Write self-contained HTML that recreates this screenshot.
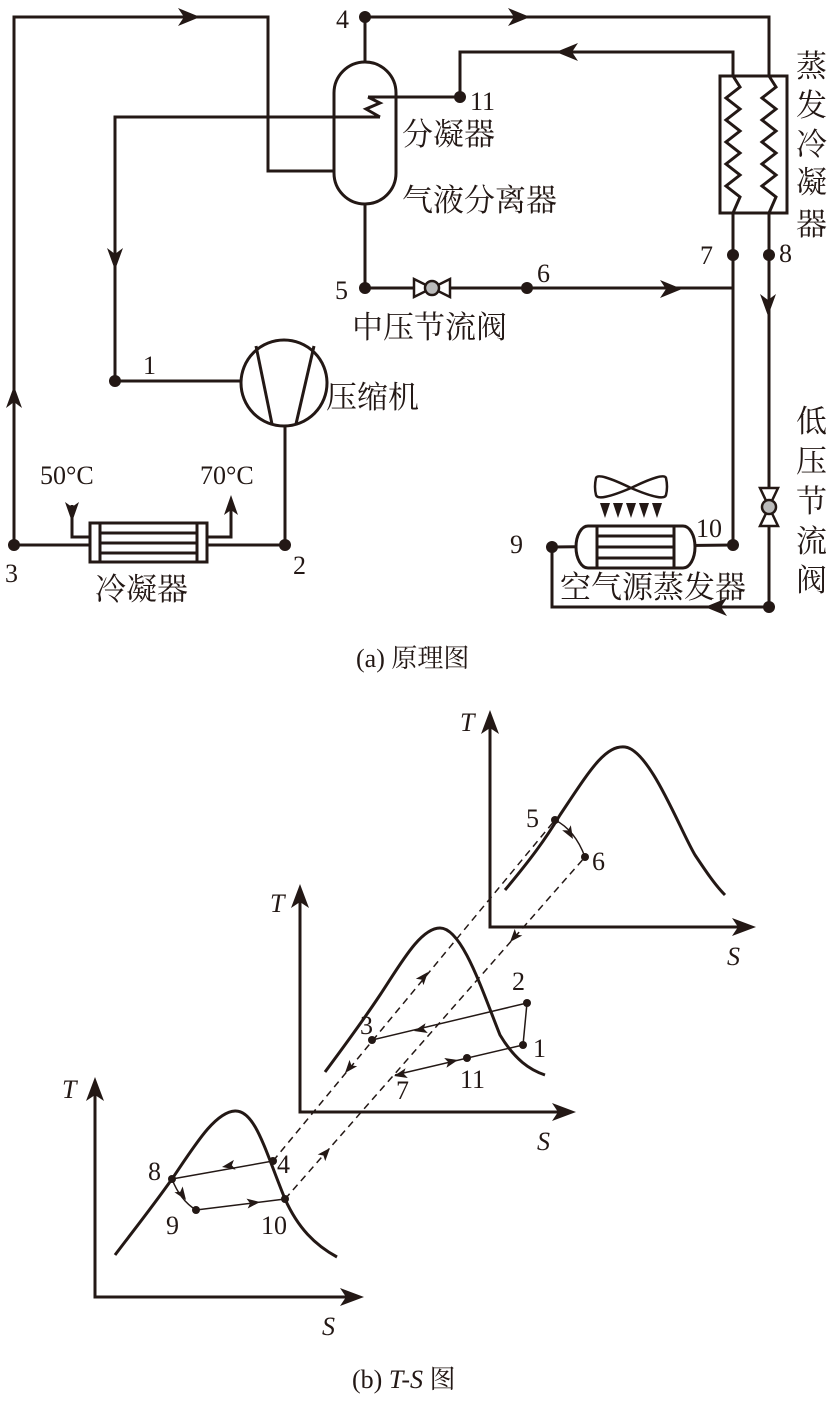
<!DOCTYPE html>
<html><head><meta charset="utf-8"><style>
body{margin:0;background:#fff}
svg{display:block}
text{font-family:"Liberation Serif","Noto Serif CJK SC",serif;fill:#231815}
.c{font-size:31px}
.n{font-size:26px}
</style></head><body>
<svg width="832" height="1408" viewBox="0 0 832 1408" xmlns="http://www.w3.org/2000/svg">
<g fill="#231815">
<path d="M14,386 l-8,22 l8,-6 l8,6z"/>
<path d="M200,17 l-22,-9 l6,9 l-6,9z"/>
<path d="M530,17 l-22,-9 l6,9 l-6,9z"/>
<path d="M556,52 l22,-9 l-6,9 l6,9z"/>
<path d="M115,270 l-8,-22 l8,6 l8,-6z"/>
<path d="M682,289 l-22,-9 l6,9 l-6,9z"/>
<path d="M768,316 l-8,-22 l8,6 l8,-6z"/>
<path d="M705,607 l22,-9 l-6,9 l6,9z"/>
<path d="M72,522 l-7,-20 l7,5 l7,-5z"/>
<path d="M231,495 l-7,20 l7,-5 l7,5z"/>
</g>
<g stroke="#231815" stroke-width="3" fill="none">
<polyline points="14,545 14,17 268,17 268,171 334,171"/>
<!-- separator -->
<path d="M334,130 v-37 a31,31 0 0 1 62,0 v80 a31,31 0 0 1 -62,0z"/>
<line x1="365" y1="17" x2="365" y2="62"/>
<polyline points="365,17 769,17 769,76"/>
<polyline points="733,76 733,52 460,52 460,97"/>
<polyline points="460,97 368,97"/>
<polyline points="368,97 380,103 366,109 380,117"/>
<polyline points="380,117 115,117 115,381"/>
<line x1="365" y1="204" x2="365" y2="288"/>
<!-- HX -->
<rect x="720" y="76" width="67" height="137"/>
<polyline points="733,76 740,87 726,98 740,109 726,120 740,131 726,142 740,153 726,164 740,175 726,186 740,197 733,213"/>
<polyline points="769,76 776,87 762,98 776,109 762,120 776,131 762,142 776,153 762,164 776,175 762,186 776,197 769,213"/>
<line x1="733" y1="213" x2="733" y2="545"/>
<line x1="769" y1="213" x2="769" y2="607"/>
<polyline points="769,607 552,607 552,547"/>
<line x1="365" y1="288" x2="733" y2="288"/>
<!-- compressor -->
<circle cx="284" cy="383" r="43"/>
<line x1="115" y1="381" x2="241" y2="381"/>
<line x1="256" y1="346" x2="272" y2="424"/>
<line x1="314" y1="346" x2="296" y2="424"/>
<line x1="285" y1="426" x2="285" y2="545"/>
<!-- condenser -->
<line x1="14" y1="545" x2="285" y2="545"/>
<rect x="90" y="523" width="117" height="39" fill="#fff"/>
<line x1="100" y1="523" x2="100" y2="562"/><line x1="197" y1="523" x2="197" y2="562"/>
<line x1="100" y1="533" x2="197" y2="533"/><line x1="100" y1="543" x2="197" y2="543"/><line x1="100" y1="553" x2="197" y2="553"/>
<polyline points="72,505 72,537 90,537"/>
<polyline points="207,537 231,537 231,500"/>
<!-- evaporator -->
<line x1="552" y1="547" x2="733" y2="545"/>
<path d="M588,526 h95 a12,21 0 0 1 0,42 h-95 a12,21 0 0 1 0,-42z" fill="#fff"/>
<line x1="597" y1="526" x2="597" y2="568"/><line x1="674" y1="526" x2="674" y2="568"/>
<line x1="597" y1="536" x2="674" y2="536"/><line x1="597" y1="547" x2="674" y2="547"/><line x1="597" y1="558" x2="674" y2="558"/>
<!-- fan -->
<path d="M596,478 Q598,472 631,488 Q664,472 666,478 Q668,487 666,495 Q664,502 631,488 Q598,502 596,495 Q594,487 596,478z" stroke-width="2.5"/>
</g>
<g fill="#231815">
<path d="M600,503 l5,15 l5,-15z M613,503 l5,15 l5,-15z M626,503 l5,15 l5,-15z M639,503 l5,15 l5,-15z M652,503 l5,15 l5,-15z"/>
</g>
<!-- valves -->
<g stroke="#231815" stroke-width="2.5" fill="#fff">
<path d="M414,279 L414,297 L450,279 L450,297z"/>
<circle cx="432" cy="288" r="7" fill="#bbb"/>
<path d="M760,488 L778,488 L760,526 L778,526z"/>
<circle cx="769" cy="507" r="7" fill="#bbb"/>
</g>
<g fill="#231815">
<circle cx="365" cy="17" r="6"/><circle cx="460" cy="97" r="6"/><circle cx="115" cy="381" r="6"/>
<circle cx="365" cy="288" r="6"/><circle cx="527" cy="288" r="6"/><circle cx="733" cy="255" r="6"/>
<circle cx="769" cy="255" r="6"/><circle cx="14" cy="545" r="6"/><circle cx="285" cy="545" r="6"/>
<circle cx="552" cy="547" r="6"/><circle cx="733" cy="545" r="6"/><circle cx="769" cy="607" r="6"/>
</g>
<text class="n" x="336" y="28">4</text>
<text class="n" x="470" y="110">11</text>
<text class="c" x="402" y="145">分凝器</text>
<text class="c" x="402" y="211">气液分离器</text>
<text class="n" x="335" y="299">5</text>
<text class="n" x="537" y="282">6</text>
<text class="c" x="352" y="338">中压节流阀</text>
<text class="n" x="700" y="264">7</text>
<text class="n" x="779" y="262">8</text>
<text class="c" x="796" y="77">蒸</text><text class="c" x="796" y="116">发</text><text class="c" x="796" y="155">冷</text><text class="c" x="796" y="193">凝</text><text class="c" x="796" y="235">器</text>
<text class="c" x="796" y="432">低</text><text class="c" x="796" y="472">压</text><text class="c" x="796" y="512">节</text><text class="c" x="796" y="552">流</text><text class="c" x="796" y="591">阀</text>
<text class="n" x="143" y="374">1</text>
<text class="c" x="326" y="408">压缩机</text>
<text class="n" x="40" y="484">50°C</text>
<text class="n" x="200" y="484">70°C</text>
<text class="n" x="5" y="582">3</text>
<text class="n" x="293" y="574">2</text>
<text class="c" x="95" y="600">冷凝器</text>
<text class="n" x="510" y="553">9</text>
<text class="n" x="696" y="537">10</text>
<text class="c" x="560" y="598">空气源蒸发器</text>
<text class="n" x="356" y="667">(a) 原理图</text>
<!-- T-S charts -->
<g stroke="#231815" stroke-width="3" fill="none">
<polyline points="490,718 490,927 748,927"/>
<polyline points="300,892 300,1112 568,1112"/>
<polyline points="95,1085 95,1297 356,1297"/>
<path d="M505,890 C530,860 545,840 560,815 C590,770 605,745 625,747 C650,750 680,830 695,855 C705,870 715,885 725,895"/>
<path d="M325,1072 C345,1045 360,1025 380,995 C400,965 420,928 440,928 C462,928 482,990 500,1035 C515,1060 530,1070 545,1075"/>
<path d="M115,1255 C130,1235 150,1210 172,1179 C195,1145 215,1112 235,1111 C255,1110 265,1150 285,1199 C298,1228 315,1245 337,1257"/>
</g>
<g fill="#231815">
<path d="M490,710 l-9,24 l9,-6 l9,6z"/><path d="M756,927 l-24,-9 l6,9 l-6,9z"/>
<path d="M300,884 l-9,24 l9,-6 l9,6z"/><path d="M576,1112 l-24,-9 l6,9 l-6,9z"/>
<path d="M95,1077 l-9,24 l9,-6 l9,6z"/><path d="M364,1297 l-24,-9 l6,9 l-6,9z"/>
</g>
<g stroke="#231815" stroke-width="1.5" fill="none" stroke-dasharray="7,5">
<line x1="273" y1="1161" x2="555" y2="820"/>
<line x1="285" y1="1199" x2="585" y2="857"/>
</g>
<g stroke="#231815" stroke-width="1.5" fill="none">
<path d="M555,820 Q575,830 585,857"/>
<line x1="372" y1="1040" x2="527" y2="1003"/>
<line x1="527" y1="1003" x2="523" y2="1045"/>
<line x1="523" y1="1045" x2="395" y2="1075"/>
<line x1="273" y1="1161" x2="172" y2="1179"/>
<path d="M172,1179 Q180,1200 196,1210"/>
<line x1="196" y1="1210" x2="285" y2="1199"/>
</g>
<g fill="#231815">
<circle cx="555" cy="820" r="4"/><circle cx="585" cy="857" r="4"/>
<circle cx="372" cy="1040" r="4"/><circle cx="527" cy="1003" r="4"/><circle cx="523" cy="1045" r="4"/><circle cx="467" cy="1058" r="4"/>
<circle cx="273" cy="1161" r="4"/><circle cx="172" cy="1179" r="4"/><circle cx="196" cy="1210" r="4"/><circle cx="285" cy="1199" r="4"/>
<g id="ar"></g>
<path d="M0,0 l-13,-5 l3,5 l-3,5z" transform="translate(428,972) rotate(-50)"/>
<path d="M0,0 l-13,-5 l3,5 l-3,5z" transform="translate(345,1073) rotate(130)"/>
<path d="M0,0 l-13,-5 l3,5 l-3,5z" transform="translate(330,1148) rotate(-49)"/>
<path d="M0,0 l-13,-5 l3,5 l-3,5z" transform="translate(510,942) rotate(131)"/>
<path d="M0,0 l-13,-5 l3,5 l-3,5z" transform="translate(414,1031) rotate(167)"/>
<path d="M0,0 l-13,-5 l3,5 l-3,5z" transform="translate(394,1076) rotate(167)"/>
<path d="M0,0 l-13,-5 l3,5 l-3,5z" transform="translate(458,1060) rotate(-13)"/>
<path d="M0,0 l-13,-5 l3,5 l-3,5z" transform="translate(222,1167) rotate(170)"/>
<path d="M0,0 l-13,-5 l3,5 l-3,5z" transform="translate(260,1202) rotate(-7)"/>
<path d="M0,0 l-13,-5 l3,5 l-3,5z" transform="translate(186,1200) rotate(55)"/>
<path d="M0,0 l-13,-5 l3,5 l-3,5z" transform="translate(573,839) rotate(60)"/>
</g>
<text class="n" x="460" y="731" font-style="italic">T</text>
<text class="n" x="727" y="965" font-style="italic">S</text>
<text class="n" x="526" y="827">5</text>
<text class="n" x="592" y="870">6</text>
<text class="n" x="270" y="912" font-style="italic">T</text>
<text class="n" x="537" y="1150" font-style="italic">S</text>
<text class="n" x="360" y="1034">3</text>
<text class="n" x="512" y="990">2</text>
<text class="n" x="533" y="1057">1</text>
<text class="n" x="460" y="1088">11</text>
<text class="n" x="396" y="1099">7</text>
<text class="n" x="62" y="1098" font-style="italic">T</text>
<text class="n" x="322" y="1335" font-style="italic">S</text>
<text class="n" x="148" y="1180">8</text>
<text class="n" x="277" y="1173">4</text>
<text class="n" x="166" y="1234">9</text>
<text class="n" x="261" y="1234">10</text>
<text class="n" x="352" y="1388">(b) <tspan font-style="italic">T-S</tspan> 图</text>
</svg>
</body></html>
